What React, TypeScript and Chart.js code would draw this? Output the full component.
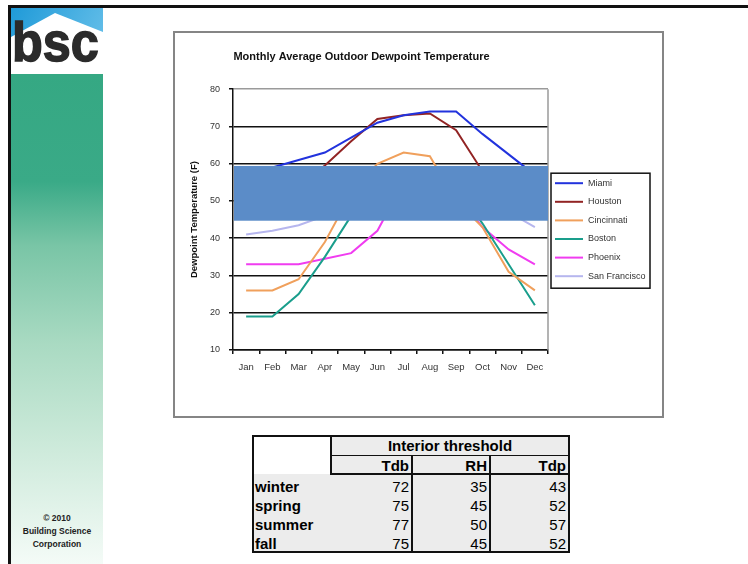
import React, { useEffect, useRef } from "react";
import { Chart, registerables } from "chart.js";

Chart.register(...registerables);

const FONT = '"Liberation Sans", Arial, Helvetica, sans-serif';

// Monthly average outdoor dewpoint (°F) per city
const MONTHS = ["Jan", "Feb", "Mar", "Apr", "May", "Jun", "Jul", "Aug", "Sep", "Oct", "Nov", "Dec"];
const CITY_NAMES = ["Miami", "Houston", "Cincinnati", "Boston", "Phoenix", "San Francisco"];
const MIAMI = [58, 59, 61, 63, 67, 71, 73, 74, 74, 68, 62.5, 57];
const HOUSTON = [47, 49, 54, 59.5, 66, 72, 73, 73.5, 69, 58, 53, 47];
const CINCINNATI = [26, 26, 29, 39, 52, 60, 63, 62, 50, 43, 31, 26];
const BOSTON = [19, 19, 25, 35, 46, 55, 59, 59, 54, 44, 33, 22];
const PHOENIX = [33, 33, 33, 34.5, 36, 42, 55, 57, 52, 43, 37, 33];
const SAN_FRANCISCO = [41, 42, 43.5, 46, 50, 52, 53, 54, 54, 51, 47, 43];

const Y_MIN = 10;
const Y_MAX = 80;
const Y_STEP = 10;

// Shaded interior dewpoint range
const BAND_HIGH = 59.4;
const BAND_LOW = 44.7;

const LINE_COLORS = ["#2233dd", "#922424", "#f0a05c", "#1a9e8c", "#f03cf0", "#b6b6ee"];

const CHART_TITLE = "Monthly Average Outdoor Dewpoint Temperature";
const Y_TITLE = "Dewpoint Temperature (F)";

// Interior threshold table
const TABLE_TITLE = "Interior threshold";
const COLUMN_HEADS = ["Tdb", "RH", "Tdp"];
const SEASONS = ["winter", "spring", "summer", "fall"];
const TDB = [72, 75, 77, 75];
const RH = [35, 45, 50, 45];
const TDP = [43, 52, 57, 52];

const bandPlugin = {
  id: "comfortBand",
  afterDatasetsDraw(chart: any) {
    const { ctx, chartArea, scales } = chart;
    const y = scales.y;
    const top = y.getPixelForValue(BAND_HIGH);
    const bottom = y.getPixelForValue(BAND_LOW);
    ctx.save();
    ctx.fillStyle = "#5b8cc8";
    ctx.fillRect(chartArea.left + 1, top, chartArea.right - chartArea.left - 1, bottom - top);
    ctx.restore();
  },
};

const plotEdgePlugin = {
  id: "plotEdge",
  beforeDatasetsDraw(chart: any) {
    const { ctx, chartArea } = chart;
    ctx.save();
    ctx.strokeStyle = "#9a9a9a";
    ctx.lineWidth = 1.5;
    ctx.beginPath();
    ctx.moveTo(chartArea.right, chartArea.top);
    ctx.lineTo(chartArea.right, chartArea.bottom);
    ctx.stroke();
    ctx.restore();
  },
};

const legendBoxPlugin = {
  id: "legendBox",
  afterDraw(chart: any) {
    const { ctx, chartArea } = chart;
    const left = chartArea.right + 3;
    const top = chartArea.top + 84;
    const w = 99;
    const h = 115;
    ctx.save();
    ctx.strokeStyle = "#111";
    ctx.lineWidth = 1.5;
    ctx.strokeRect(left, top, w, h);
    ctx.font = `9px ${FONT}`;
    ctx.textBaseline = "middle";
    ctx.textAlign = "left";
    chart.data.datasets.forEach((ds: any, i: number) => {
      const yy = top + 10 + i * 18.6;
      ctx.strokeStyle = ds.borderColor;
      ctx.lineWidth = 2;
      ctx.beginPath();
      ctx.moveTo(left + 4, yy);
      ctx.lineTo(left + 32, yy);
      ctx.stroke();
      ctx.fillStyle = "#333";
      ctx.fillText(ds.label, left + 37, yy);
    });
    ctx.restore();
  },
};

function DewpointChart() {
  const ref = useRef<HTMLCanvasElement>(null);

  useEffect(() => {
    const canvas = ref.current;
    if (!canvas) return;
    const series = [MIAMI, HOUSTON, CINCINNATI, BOSTON, PHOENIX, SAN_FRANCISCO];
    const chart = new Chart(canvas, {
      type: "line",
      data: {
        labels: MONTHS,
        datasets: CITY_NAMES.map((name, i) => ({
          label: name,
          data: series[i],
          borderColor: LINE_COLORS[i],
          backgroundColor: LINE_COLORS[i],
          borderWidth: 2,
          pointRadius: 0,
          tension: 0,
          fill: false,
        })),
      },
      options: {
        responsive: false,
        animation: false,
        layout: { padding: { left: 0, top: 0, right: 114, bottom: 0 } },
        plugins: {
          legend: { display: false },
          tooltip: { enabled: false },
          title: {
            display: true,
            text: CHART_TITLE,
            color: "#111",
            font: { size: 11, weight: "bold", family: FONT },
            padding: { top: 17, bottom: 26 },
          },
        },
        scales: {
          x: {
            offset: true,
            grid: {
              offset: true,
              drawOnChartArea: false,
              drawTicks: true,
              tickLength: 4,
              color: "#111",
              lineWidth: 1.5,
            },
            border: { display: true, color: "#111", width: 1.5 },
            ticks: {
              color: "#333",
              font: { size: 9.5, family: FONT },
              padding: 8,
              maxRotation: 0,
              autoSkip: false,
            },
            afterFit: (s: any) => {
              s.height = 66;
            },
          },
          y: {
            min: Y_MIN,
            max: Y_MAX,
            ticks: {
              stepSize: Y_STEP,
              color: "#333",
              font: { size: 9, family: FONT },
              padding: 9,
            },
            grid: {
              color: (c: any) => (c.tick && c.tick.value === Y_MAX ? "#9a9a9a" : "#111"),
              lineWidth: 1.5,
              tickLength: 4,
              tickColor: "#111",
            },
            border: { color: "#111", width: 1.5 },
            title: {
              display: true,
              text: Y_TITLE,
              color: "#111",
              font: { size: 9.5, weight: "bold", family: FONT },
              padding: { top: 14, bottom: 0 },
            },
            afterFit: (s: any) => {
              s.width = 58;
            },
          },
        },
      },
      plugins: [plotEdgePlugin, bandPlugin, legendBoxPlugin],
    } as any);
    return () => chart.destroy();
  }, []);

  return <canvas ref={ref} width={487} height={383} style={{ display: "block", width: 487, height: 383 }} />;
}

function Sidebar() {
  return (
    <>
      <svg
        width={92}
        height={66}
        style={{ position: "absolute", left: 11, top: 8, display: "block" }}
      >
        <defs>
          <linearGradient id="sky" x1="0" y1="0" x2="1" y2="0.4">
            <stop offset="0" stopColor="#1f9ad8" />
            <stop offset="1" stopColor="#62bde8" />
          </linearGradient>
        </defs>
        <rect x={0} y={0} width={92} height={66} fill="url(#sky)" />
        <polygon points="0,29 44,5 92,24 92,66 0,66" fill="#ffffff" />
      </svg>
      <div
        style={{
          position: "absolute",
          left: 11,
          top: 74,
          width: 92,
          height: 490,
          background:
            "linear-gradient(to bottom, #35a883 0%, #3aaa87 22%, #79c5a6 35%, #a9dac2 55%, #cbe9d9 75%, #f4fbf7 100%)",
        }}
      />
      <div
        style={{
          position: "absolute",
          left: 12,
          top: 14,
          fontFamily: FONT,
          fontWeight: 700,
          fontSize: 56,
          lineHeight: "56px",
          color: "#2b2b2b",
          WebkitTextStroke: "1.5px #2b2b2b",
          transform: "scaleX(0.9)",
          transformOrigin: "left top",
          whiteSpace: "nowrap",
        }}
      >
        bsc
      </div>
      <div
        style={{
          position: "absolute",
          left: 11,
          top: 512,
          width: 92,
          textAlign: "center",
          fontFamily: FONT,
          fontWeight: 700,
          fontSize: 8.5,
          lineHeight: "13px",
          color: "#222",
        }}
      >
        <div>© 2010</div>
        <div>Building Science</div>
        <div>Corporation</div>
      </div>
    </>
  );
}

function ThresholdTable() {
  const colRights = [155, 233, 312];
  const values = [TDB, RH, TDP];
  const cellText: React.CSSProperties = {
    position: "absolute",
    fontFamily: FONT,
    fontSize: 15,
    height: 19,
    lineHeight: "19px",
    color: "#000",
    whiteSpace: "nowrap",
  };
  return (
    <div
      style={{
        position: "absolute",
        left: 252,
        top: 435,
        width: 318,
        height: 118,
        border: "2px solid #111",
        boxSizing: "border-box",
        background: "#ececec",
      }}
    >
      <div style={{ position: "absolute", left: 0, top: 0, width: 76, height: 37, background: "#fff" }} />
      <div style={{ position: "absolute", left: 76, top: 0, width: 2, height: 38, background: "#111" }} />
      <div style={{ position: "absolute", left: 78, top: 18, right: 0, height: 1, background: "#111" }} />
      <div style={{ position: "absolute", left: 78, top: 36, right: 0, height: 2, background: "#111" }} />
      <div style={{ position: "absolute", left: 157, top: 18, width: 2, bottom: 0, background: "#111" }} />
      <div style={{ position: "absolute", left: 235, top: 18, width: 2, bottom: 0, background: "#111" }} />
      <div
        style={{ ...cellText, left: 78, width: 236, top: 0, height: 18, lineHeight: "18px", textAlign: "center", fontWeight: 700 }}
      >
        {TABLE_TITLE}
      </div>
      {COLUMN_HEADS.map((h, i) => (
        <div key={h} style={{ ...cellText, left: colRights[i] - 70, width: 70, top: 19, textAlign: "right", fontWeight: 700 }}>
          {h}
        </div>
      ))}
      {SEASONS.map((s, r) => (
        <React.Fragment key={s}>
          <div style={{ ...cellText, left: 1, top: 39.5 + r * 19, fontWeight: 700 }}>{s}</div>
          {values.map((col, c) => (
            <div key={c} style={{ ...cellText, left: colRights[c] - 60, width: 60, top: 39.5 + r * 19, textAlign: "right" }}>
              {col[r]}
            </div>
          ))}
        </React.Fragment>
      ))}
    </div>
  );
}

export default function App() {
  return (
    <div
      style={{
        position: "absolute",
        left: 0,
        top: 0,
        width: 748,
        height: 564,
        background: "#fff",
        overflow: "hidden",
        fontFamily: FONT,
      }}
    >
      <Sidebar />
      <div style={{ position: "absolute", left: 8, top: 5, width: 740, height: 3, background: "#111" }} />
      <div style={{ position: "absolute", left: 8, top: 5, width: 3, height: 559, background: "#111" }} />
      <div
        style={{
          position: "absolute",
          left: 173,
          top: 31,
          width: 491,
          height: 387,
          border: "2px solid #858585",
          boxSizing: "border-box",
          background: "#fff",
        }}
      >
        <DewpointChart />
      </div>
      <ThresholdTable />
    </div>
  );
}
